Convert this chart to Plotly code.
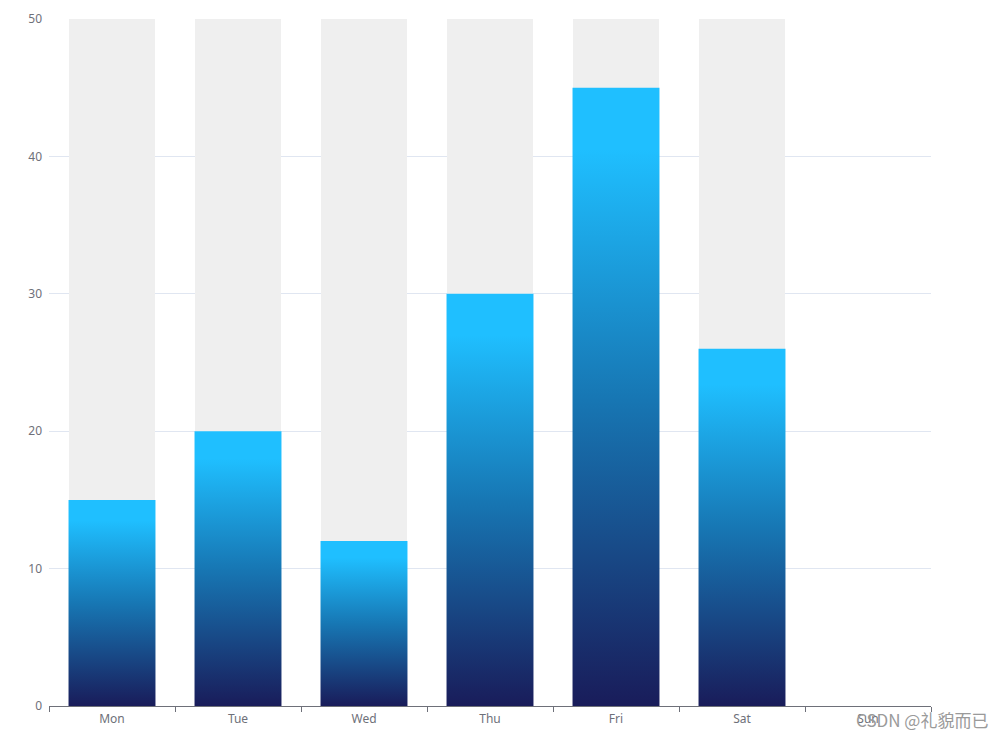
import plotly.graph_objects as go

categories = ["Mon", "Tue", "Wed", "Thu", "Fri", "Sat", "Sun"]
values = [15, 20, 12, 30, 45, 26]
background_max = 50
y_ticks = [0, 10, 20, 30, 40, 50]

bar_w = 0.69
grad_scale = [[0, "#191c5a"], [0.5, "#1777b4"], [0.9, "#1fbfff"], [1, "#1fbfff"]]

fig = go.Figure()

# background bars
fig.add_trace(go.Bar(
    x=categories[:len(values)], y=[background_max] * len(values),
    width=bar_w, marker=dict(color="#efefef", line=dict(width=0)),
    hoverinfo="skip", showlegend=False,
))

# gradient bars
for i, v in enumerate(values):
    x0, x1 = i - bar_w / 2, i + bar_w / 2
    fig.add_trace(go.Scatter(
        x=[x0, x1, x1, x0, x0], y=[0, 0, v, v, 0],
        xaxis="x2", mode="none", fill="toself",
        fillgradient=dict(type="vertical", colorscale=grad_scale, start=0, stop=v),
        hoverinfo="skip", showlegend=False,
    ))

axis_font = dict(family="Noto Sans, Microsoft YaHei, sans-serif", size=12, color="#6e7079")

fig.update_layout(
    width=997, height=731,
    margin=dict(l=41, r=74, t=11, b=33, autoexpand=False),
    plot_bgcolor="white", paper_bgcolor="white",
    xaxis=dict(
        type="category", categoryorder="array", categoryarray=categories,
        range=[-0.5, 6.5], tickson="boundaries", ticks="outside", ticklen=5,
        tickcolor="#6e7079", showline=True, linecolor="#6e7079", linewidth=1,
        showgrid=False, zeroline=False, tickfont=axis_font, automargin=False,
        ticklabelstandoff=2,
    ),
    xaxis2=dict(overlaying="x", range=[-0.5, 6.5], visible=False),
    yaxis=dict(
        range=[0, 50], tickvals=y_ticks, showgrid=True, gridcolor="#e0e6f1",
        zeroline=False, showline=False, tickfont=axis_font, ticks="",
        ticklabelstandoff=6, automargin=False,
    ),
    bargap=0,
    annotations=[dict(
        text="CSDN @礼貌而已", xref="paper", yref="paper",
        x=1.067, y=-0.019, xanchor="right", yanchor="middle", showarrow=False,
        font=dict(family="Noto Sans CJK SC", size=17, color="#9a9a9a"),
    )],
)

fig.write_html("out.html")
